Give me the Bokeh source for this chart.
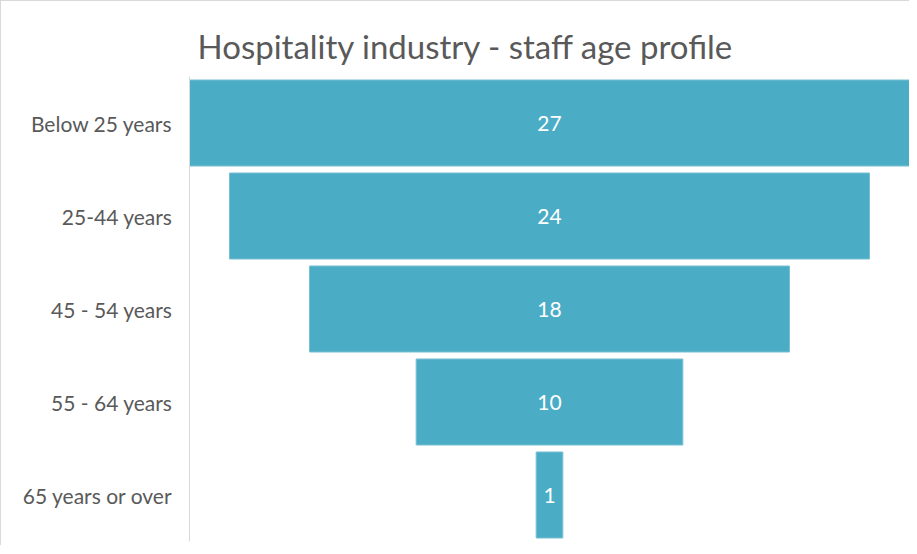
from bokeh.plotting import figure
from bokeh.models import FactorRange, ColumnDataSource
from bokeh.core.properties import value
from bokeh.embed import file_html
from bokeh.resources import INLINE

categories = ["Below 25 years", "25-44 years", "45 - 54 years", "55 - 64 years", "65 years or over"]
staff_share = [27, 24, 18, 10, 1]
title_text = "Hospitality industry - staff age profile"

src = ColumnDataSource(dict(
    cat=categories,
    left=[-v / 2 for v in staff_share],
    right=[v / 2 for v in staff_share],
    label=[str(v) for v in staff_share],
    mid=[0] * len(staff_share),
))

half = max(staff_share) / 2
p = figure(width=909, height=545, output_backend="svg", toolbar_location=None,
           y_range=FactorRange(factors=list(reversed(categories)), range_padding=0),
           x_range=(-half, half), title=title_text,
           min_border_left=188, min_border_right=1, min_border_top=75, min_border_bottom=5)
p.styles = {"border-left": "1px solid #D9D9D9", "border-top": "1px solid #D9D9D9"}

p.hbar(y="cat", left="left", right="right", height=0.925, source=src,
       fill_color="#4BACC6", line_color="#79C0D3", line_width=1)
p.text(x="mid", y="cat", text="label", source=src, text_color="white",
       text_align="center", text_baseline="middle", text_font=value("Lato"),
       text_font_size="21px")

p.title.align = "left"
p.title.offset = 8
p.title.standoff = 22
p.title.text_font = "Lato"
p.title.text_font_style = "normal"
p.title.text_font_size = "33px"
p.title.text_color = "#595959"

p.xaxis.visible = False
p.xgrid.visible = False
p.ygrid.visible = False
p.outline_line_color = None
yax = p.yaxis[0]
yax.axis_line_color = "#D9D9D9"
yax.axis_line_width = 1
yax.major_tick_in = 0
yax.major_tick_out = 0
yax.minor_tick_in = 0
yax.minor_tick_out = 0
yax.major_label_text_font = "Lato"
yax.major_label_text_font_size = "21px"
yax.major_label_text_color = "#595959"
yax.major_label_standoff = 17

open("out.html", "w").write(file_html(p, INLINE))
